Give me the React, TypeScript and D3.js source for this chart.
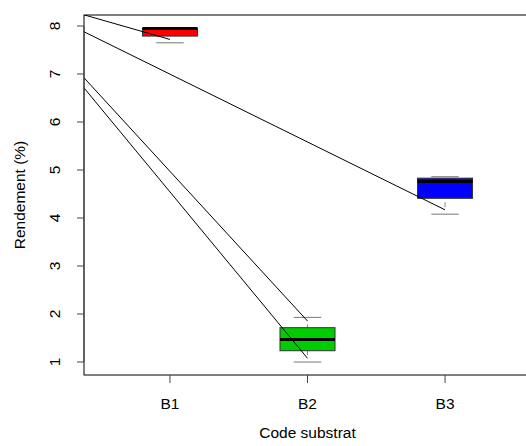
import * as d3 from "d3";
import { useRef, useEffect } from "react";

// boxplot stats per substrate
const categories = ["B1", "B2", "B3"];
const lowerWhisker = [7.65, 1.0, 4.08];
const q1 = [7.79, 1.235, 4.41];
const medians = [7.95, 1.47, 4.76];
const q3 = [7.95, 1.715, 4.83];
const upperWhisker = [7.95, 1.93, 4.86];
const fills = ["#FF0000", "#00CD00", "#0000FF"];

// overlay lines: value at x=0, target group, value at group
const lineStart = [8.54, 8.09, 8.01, 8.41];
const lineGroup = [1, 2, 2, 3];
const lineEnd = [7.72, 1.854, 1.077, 4.17];

const yTicks = [1, 2, 3, 4, 5, 6, 7, 8];

const W = 526;
const H = 446;

const App = () => {
  const ref = useRef(null);

  useEffect(() => {
    const svg = d3.select(ref.current);
    svg.selectAll("*").remove();

    const x = d3.scaleLinear().domain([0.375, 3.625]).range([84, 531]);
    const y = d3.scaleLinear().domain([1, 8]).range([362, 26]);
    const top = y(8.229);
    const bottom = y(0.729);
    const font = "'Liberation Sans', Arial, sans-serif";
    const fs = 15.5;

    svg.append("defs").append("clipPath").attr("id", "plotclip")
      .append("rect")
      .attr("x", x(0.375)).attr("y", top)
      .attr("width", x(3.625) - x(0.375)).attr("height", bottom - top);

    const boxW = x(1.4) - x(1);
    const capW = boxW / 2;

    categories.forEach((c, i) => {
      const cx = x(i + 1);
      const g = svg.append("g");
      // whiskers (dashed, mostly hidden)
      [[lowerWhisker[i], q1[i]], [upperWhisker[i], q3[i]]].forEach(([a, b]) => {
        g.append("line")
          .attr("x1", cx).attr("x2", cx)
          .attr("y1", y(a)).attr("y2", y(b))
          .attr("stroke", "#888").attr("stroke-width", 1)
          .attr("stroke-dasharray", "0,7,5,40");
        g.append("line")
          .attr("x1", cx - capW / 2).attr("x2", cx + capW / 2)
          .attr("y1", y(a)).attr("y2", y(a))
          .attr("stroke", "#777").attr("stroke-width", 1);
      });
      g.append("rect")
        .attr("x", cx - boxW / 2).attr("y", y(q3[i]))
        .attr("width", boxW).attr("height", y(q1[i]) - y(q3[i]))
        .attr("fill", fills[i])
        .attr("stroke", "#333").attr("stroke-width", 1);
      g.append("line")
        .attr("x1", cx - boxW / 2).attr("x2", cx + boxW / 2)
        .attr("y1", y(medians[i])).attr("y2", y(medians[i]))
        .attr("stroke", "#000").attr("stroke-width", 3);
    });

    // overlay lines
    const lg = svg.append("g").attr("clip-path", "url(#plotclip)");
    lineStart.forEach((v, i) => {
      lg.append("line")
        .attr("x1", x(0)).attr("y1", y(v))
        .attr("x2", x(lineGroup[i])).attr("y2", y(lineEnd[i]))
        .attr("stroke", "#000").attr("stroke-width", 1);
    });

    // frame
    svg.append("rect")
      .attr("x", x(0.375)).attr("y", top)
      .attr("width", x(3.625) - x(0.375)).attr("height", bottom - top)
      .attr("fill", "none").attr("stroke", "#000").attr("stroke-width", 1);

    // y axis
    const ya = svg.append("g");
    ya.append("line")
      .attr("x1", 84).attr("x2", 84).attr("y1", y(1)).attr("y2", y(8))
      .attr("stroke", "#444");
    yTicks.forEach((t) => {
      ya.append("line")
        .attr("x1", 77).attr("x2", 84).attr("y1", y(t)).attr("y2", y(t))
        .attr("stroke", "#444");
      ya.append("text")
        .attr("transform", `translate(60,${y(t)}) rotate(-90)`)
        .attr("text-anchor", "middle")
        .attr("font-family", font).attr("font-size", fs)
        .text(t);
    });

    // x axis
    const xa = svg.append("g");
    categories.forEach((c, i) => {
      xa.append("line")
        .attr("x1", x(i + 1)).attr("x2", x(i + 1))
        .attr("y1", bottom).attr("y2", bottom + 8)
        .attr("stroke", "#444");
      xa.append("text")
        .attr("x", x(i + 1)).attr("y", 409)
        .attr("text-anchor", "middle")
        .attr("font-family", font).attr("font-size", fs)
        .text(c);
    });

    svg.append("text")
      .attr("x", (x(0.375) + x(3.625)) / 2).attr("y", 438)
      .attr("text-anchor", "middle")
      .attr("font-family", font).attr("font-size", fs)
      .text("Code substrat");

    svg.append("text")
      .attr("transform", `translate(25,${(top + bottom) / 2}) rotate(-90)`)
      .attr("text-anchor", "middle")
      .attr("font-family", font).attr("font-size", fs)
      .text("Rendement (%)");
  }, []);

  return (
    <svg
      ref={ref}
      width={W}
      height={H}
      style={{ position: "absolute", left: 0, top: 0, background: "#fff" }}
    />
  );
};

export default App;
